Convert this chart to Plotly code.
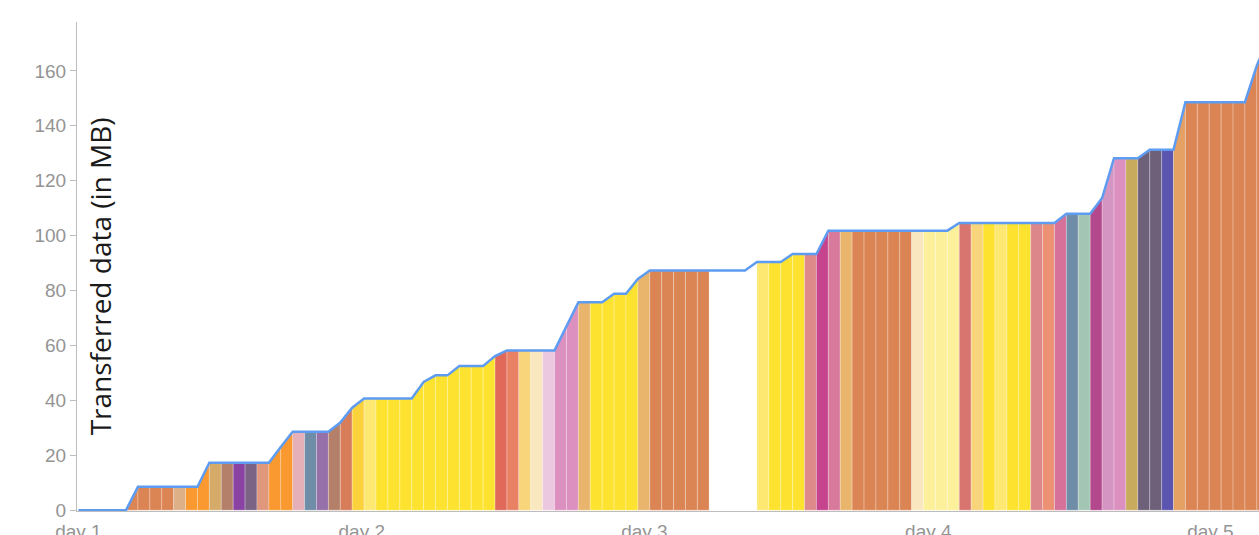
import plotly.graph_objects as go

# ---- data -------------------------------------------------------------
# hour boundaries since the start of day 1
hour_marks = list(range(101))

# cumulative transferred data (MB) at each hour boundary
cumulative_mb = [
    0, 0, 0, 0, 0,
    8.5, 8.5, 8.5, 8.5, 8.5, 8.5,
    17.3, 17.3, 17.3, 17.3, 17.3, 17.3,
    23.0,
    28.6, 28.6, 28.6, 28.6,
    31.9, 37.3,
    40.7, 40.7, 40.7, 40.7, 40.7,
    46.7, 49.1, 49.1,
    52.5, 52.5, 52.5,
    56.1,
    58.2, 58.2, 58.2, 58.2, 58.2,
    67.0,
    75.7, 75.7, 75.7,
    78.8, 78.8,
    84.2,
    87.3, 87.3, 87.3, 87.3, 87.3, 87.3, 87.3, 87.3, 87.3,
    90.4, 90.4, 90.4,
    93.3, 93.3, 93.3,
    101.8, 101.8, 101.8, 101.8, 101.8, 101.8, 101.8, 101.8, 101.8, 101.8, 101.8,
    104.6, 104.6, 104.6, 104.6, 104.6, 104.6, 104.6, 104.6, 104.6,
    108.0, 108.0, 108.0,
    113.7,
    128.2, 128.2, 128.2,
    131.3, 131.3, 131.3,
    148.6, 148.6, 148.6, 148.6, 148.6, 148.6,
    162.0, 172.0,
]

# source (category) active during each hourly slot (None = nothing)
slot_source = (
    [None, None, None, None]
    + ["s01", "s01", "s01", "s01", "s02", "s03", "s03", "s04", "s05", "s06",
       "s07", "s08", "s03", "s03", "s09", "s10", "s11", "s05", "s12", "s13",
       "s14"]
    + ["s15"] * 10
    + ["s16", "s17", "s18", "s19", "s20", "s21", "s21", "s22"]
    + ["s15", "s15", "s15", "s15", "s22"]
    + ["s01", "s01", "s01", "s01", "s01"]
    + ["s23", "s23", "s23", "s23"]
    + ["s14", "s15", "s15", "s15", "s24", "s25", "s26", "s22"]
    + ["s01", "s01", "s01", "s01", "s01"]
    + ["s19", "s27", "s27", "s27", "s28", "s18", "s15", "s14", "s15", "s15",
       "s29", "s30", "s31", "s10", "s32", "s33", "s34", "s21", "s35", "s36",
       "s36", "s37", "s38"]
    + ["s01"] * 7
)

day_tick_hours = [0, 23.8, 47.55, 71.4, 95.1]
day_tick_labels = ["day 1", "day 2", "day 3", "day 4", "day 5"]

y_tick_values = [0, 20, 40, 60, 80, 100, 120, 140, 160]

# ---- styles -----------------------------------------------------------
palette = {
    "s01": "#dc8554", "s02": "#ddb088", "s03": "#f9992f", "s04": "#d6aa68",
    "s05": "#b5806a", "s06": "#8a42a3", "s07": "#7a6385", "s08": "#e1977c",
    "s09": "#e5b0b8", "s10": "#6f8da7", "s11": "#9670a8", "s12": "#d77d5a",
    "s13": "#fbd13c", "s14": "#fde872", "s15": "#fde330", "s16": "#e0695a",
    "s17": "#e98264", "s18": "#f8d47a", "s19": "#f9e7bf", "s20": "#ebc8df",
    "s21": "#dc90c0", "s22": "#e9b46c", "s23": "#ffffff", "s24": "#de898a",
    "s25": "#c6448e", "s26": "#d87a9b", "s27": "#fdf09a", "s28": "#d8756f",
    "s29": "#dc878a", "s30": "#ec9174", "s31": "#d6719a", "s32": "#a3c6b4",
    "s33": "#b3488c", "s34": "#d495c2", "s35": "#c9ab5e", "s36": "#6e6079",
    "s37": "#5b55b0", "s38": "#e5a064",
}

fig = go.Figure()

for i, src in enumerate(slot_source):
    if src is None:
        continue
    x0, x1 = hour_marks[i], hour_marks[i + 1]
    y0, y1 = cumulative_mb[i], cumulative_mb[i + 1]
    fig.add_trace(go.Scatter(
        x=[x0, x0, x1, x1, x0],
        y=[0, y0, y1, 0, 0],
        mode="lines",
        fill="toself",
        fillcolor=palette[src],
        line=dict(color="rgba(255,255,255,0.25)", width=1),
        hoverinfo="skip",
        showlegend=False,
    ))

fig.add_trace(go.Scatter(
    x=hour_marks,
    y=cumulative_mb,
    mode="lines",
    line=dict(color="#5e9cf2", width=2.5),
    showlegend=False,
    hoverinfo="skip",
))

tick_font = dict(family="Liberation Sans, Arial, sans-serif", size=19, color="#949494")

fig.update_layout(
    width=1259,
    height=535,
    margin=dict(l=77, r=0, t=22, b=24, autoexpand=False),
    paper_bgcolor="white",
    plot_bgcolor="white",
    xaxis=dict(
        range=[-0.12, 99.18],
        tickmode="array",
        tickvals=day_tick_hours,
        ticktext=day_tick_labels,
        showgrid=False,
        zeroline=False,
        showline=True,
        linecolor="#bdbdbd",
        linewidth=1,
        ticks="",
        tickfont=tick_font,
        ticklabelstandoff=3,
        layer="below traces",
        automargin=False,
        fixedrange=True,
    ),
    yaxis=dict(
        range=[-0.3, 177.8],
        tickmode="array",
        tickvals=y_tick_values,
        showgrid=False,
        zeroline=False,
        showline=True,
        linecolor="#bdbdbd",
        linewidth=1,
        ticks="outside",
        ticklen=6,
        tickcolor="#bdbdbd",
        tickfont=tick_font,
        layer="below traces",
        automargin=False,
        fixedrange=True,
    ),
    annotations=[dict(
        text="Transferred data (in MB)",
        xref="paper", yref="paper",
        x=0.0195, y=0.48,
        xanchor="center", yanchor="middle",
        textangle=-90,
        showarrow=False,
        font=dict(family="Open Sans, sans-serif", size=28, color="#1a1a1a"),
    )],
)

# remove the default page margin so the figure fills the window exactly
fig.write_html(
    "out.html",
    config={"displayModeBar": False},
    post_script="document.body.style.margin='0';document.body.style.overflow='hidden';",
)
